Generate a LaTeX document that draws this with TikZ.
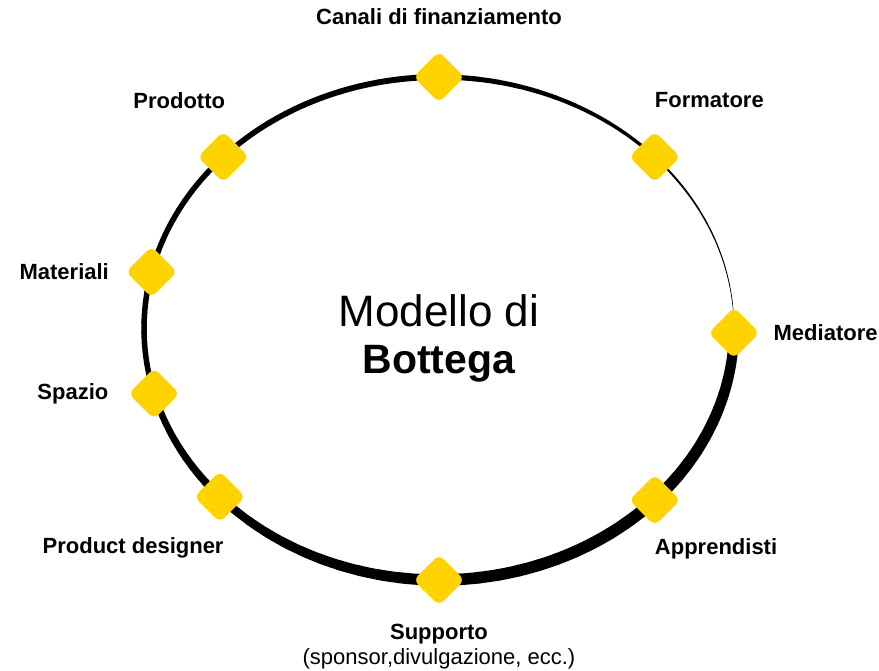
\documentclass[tikz,border=0pt]{standalone}
\usepackage{fontspec}
\setmainfont{Liberation Sans}
\usepackage{xcolor}
\usepackage{tikz}
\usetikzlibrary{shapes.geometric,positioning}

\definecolor{gold}{HTML}{FFD300}

\begin{document}
\begin{tikzpicture}[
    x=1pt, y=1pt,
    gem/.style={diamond, fill=gold, minimum size=51pt, inner sep=0pt, outer sep=0pt, rounded corners=6.5pt},
    tag/.style={inner sep=0pt, font=\fontsize{22}{25}\selectfont\bfseries},
    ring/.style={draw=black, line cap=round}
]
    \useasboundingbox (-439,-341.5) rectangle (440,328.5);

    % ring, thickness changes from stop to stop
    \foreach \from/\to/\wa/\wb in {90/43/5.5/3, 43/-1/2.2/0.3, -1/-43/10/12, -43/-90/12/11.5,
        -90/-138/11.5/8, -138/-165/8/6, -165/-193/5.5/5.5, -193/-223/5.5/5.5, -223/-270/5.5/6}
    {
        \foreach \k in {1,...,12}{
            \pgfmathsetmacro\a{\from+(\to-\from)*(\k-1)/12}
            \pgfmathsetmacro\b{\from+(\to-\from)*\k/12}
            \pgfmathsetmacro\w{\wa+(\wb-\wa)*(\k-0.5)/12}
            \draw[ring, line width=\w pt] (\a:295pt and 251.5pt)
                arc[start angle=\a, end angle=\b, x radius=295pt, y radius=251.5pt];
        }
    }

    % stops
    \node[gem] (canali) at (90:295pt and 251.5pt) {};
    \node[gem] (formatore) at (43:295pt and 251.5pt) {};
    \node[gem] (mediatore) at (-1:295pt and 251.5pt) {};
    \node[gem] (apprendisti) at (-43:295pt and 251.5pt) {};
    \node[gem] (supporto) at (-90:295pt and 251.5pt) {};
    \node[gem] (pdesigner) at (-138:295pt and 251.5pt) {};
    \node[gem] (spazio) at (-165:295pt and 251.5pt) {};
    \node[gem] (materiali) at (167:295pt and 251.5pt) {};
    \node[gem] (prodotto) at (137:295pt and 251.5pt) {};

    % labels
    \node[tag, above=27pt of canali] (tcanali) {Canali di finanziamento};
    \node[tag, above right=24pt and 0pt of formatore.north] (tformatore) {Formatore};
    \node[tag, right=14pt of mediatore] (tmediatore) {Mediatore};
    \node[tag, below right=13pt and 0pt of apprendisti.south] (tapprendisti) {Apprendisti};
    \node[tag, below=18pt of supporto, align=center] (tsupporto) {Supporto\\{\mdseries (sponsor,divulgazione, ecc.)}};
    \node[tag, below left=15pt and -4pt of pdesigner.south] (tpdesigner) {Product designer};
    \node[tag, left=20pt of spazio] (tspazio) {Spazio};
    \node[tag, left=17pt of materiali] (tmateriali) {Materiali};
    \node[tag, above=23pt of prodotto, xshift=-44pt] (tprodotto) {Prodotto};

    \node[align=center, font=\fontsize{44}{47}\selectfont] (title) at (0,-10)
        {Modello di\\{\fontsize{41}{47}\selectfont\bfseries Bottega}};
\end{tikzpicture}
\end{document}
